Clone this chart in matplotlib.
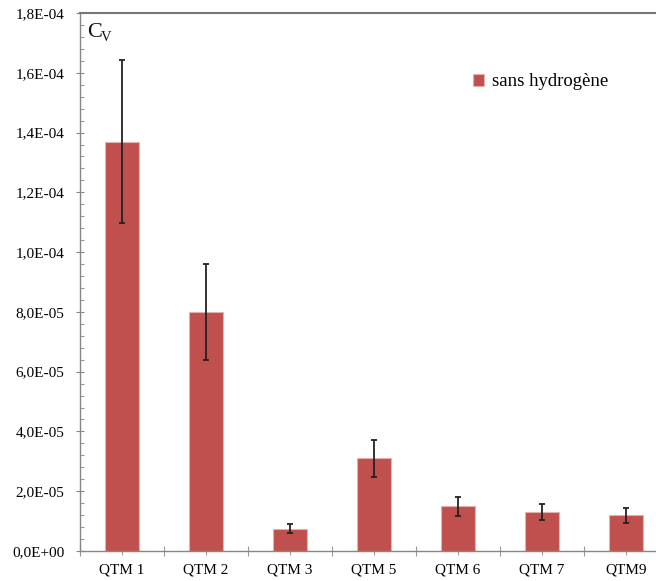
import numpy as np
import matplotlib.pyplot as plt
import matplotlib.ticker as ticker

# données
categories = ['QTM 1', 'QTM 2', 'QTM 3', 'QTM 5', 'QTM 6', 'QTM 7', 'QTM9']
cv_values = [1.37e-4, 8.0e-5, 7.5e-6, 3.1e-5, 1.49e-5, 1.31e-5, 1.20e-5]
cv_errors = [2.73e-5, 1.6e-5, 1.6e-6, 6.2e-6, 3.1e-6, 2.7e-6, 2.5e-6]
legend_label = 'sans hydrogène'

plt.rcParams['font.family'] = ['Liberation Serif', 'DejaVu Serif']

W, H = 656, 581
fig = plt.figure(figsize=(W / 100, H / 100), dpi=100)
ax = fig.add_axes([80 / W, 30 / H, 588 / W, 538 / H])

x = np.arange(len(categories))
ax.bar(x, cv_values, width=0.4, color='#C0504D', edgecolor='#E6B0AE',
       linewidth=0.8, label=legend_label, zorder=2)
ax.errorbar(x, cv_values, yerr=cv_errors, fmt='none', ecolor='#222222',
            elinewidth=1.3, capsize=2.3, capthick=1.3, zorder=3)

ax.set_xlim(-0.5, len(categories) - 0.5)
ax.set_ylim(0, 1.8e-4)

ax.set_xticks(x)
ax.set_xticklabels(categories, fontsize=11)
ax.set_xticks(np.arange(-0.5, len(categories), 1.0), minor=True)
ax.tick_params(axis='x', which='major', direction='out', length=3, width=0.8,
               color='#999999', pad=6)
ax.tick_params(axis='x', which='minor', direction='inout', length=7, width=0.8,
               color='#999999')

ax.yaxis.set_major_locator(ticker.MultipleLocator(2e-5))
ax.yaxis.set_minor_locator(ticker.MultipleLocator(4e-6))
ax.yaxis.set_major_formatter(
    ticker.FuncFormatter(lambda v, p: f'{v:.1E}'.replace('.', ',')))
ax.tick_params(axis='y', which='major', direction='inout', length=6, width=0.8,
               color='#888888', labelsize=11, pad=8)
ax.tick_params(axis='y', which='minor', direction='in', length=3, width=0.8,
               color='#999999')

for s in ['left', 'bottom']:
    ax.spines[s].set_color('#868686')
    ax.spines[s].set_linewidth(1.0)
ax.spines['top'].set_color('#777777')
ax.spines['top'].set_linewidth(1.5)
ax.spines['right'].set_visible(False)

# C_V
fig.text(87 / W, 1 - 37 / H, 'C', fontsize=16, color='#111111')
fig.text(101 / W, 1 - 41 / H, 'V', fontsize=10.5, color='#111111')

ax.legend(loc='center left', bbox_to_anchor=(473 / W, 1 - 82 / H),
          bbox_transform=fig.transFigure, frameon=False, fontsize=13.5,
          handlelength=0.6, handleheight=0.6, handletextpad=0.4,
          borderpad=0, borderaxespad=0)

plt.savefig('out.png', dpi=100)
